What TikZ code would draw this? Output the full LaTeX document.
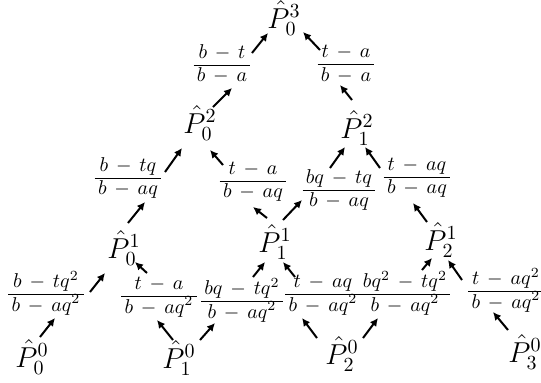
\documentclass[tikz,border=0pt]{standalone}
\usepackage{amsmath}
\usetikzlibrary{calc,arrows.meta}
\newcommand\conn[4]{\draw[arr] ($(#1)+(#2)$) -- ($(#3)+(#4)$);}
\newcommand\mn{\mathbin{\,{-}\,}}
\newcommand\ff[2]{{\renewcommand\arraystretch{0}%
  \begin{array}{@{\,}c@{\,}}\rule[-3.3pt]{0pt}{6pt}#1\\\hline\rule{0pt}{8pt}#2\end{array}}}
\begin{document}
\begin{tikzpicture}[x=0.5pt,y=-0.5pt,
  pn/.style={inner sep=0pt,font=\fontsize{14.5}{16}\selectfont},
  fr/.style={inner sep=0pt,font=\fontsize{9.8}{11}\selectfont},
  arr/.style={-{Latex[length=4pt,width=4pt]},line width=1pt}]
\useasboundingbox (0,0) rectangle (541,382);
% P nodes
\node[pn] (P03) at (284,18) {$\hat{P}_0^3$};
\node[pn] (P02) at (200,123) {$\hat{P}_0^2$};
\node[pn] (P12) at (357,128) {$\hat{P}_1^2$};
\node[pn] (P01) at (124,248) {$\hat{P}_0^1$};
\node[pn] (P11) at (275,242) {$\hat{P}_1^1$};
\node[pn] (P21) at (441,240) {$\hat{P}_2^1$};
\node[pn] (P00) at (32,357) {$\hat{P}_0^0$};
\node[pn] (P10) at (179,358) {$\hat{P}_1^0$};
\node[pn] (P20) at (342,354) {$\hat{P}_2^0$};
\node[pn] (P30) at (525,352) {$\hat{P}_3^0$};
% fractions
\node[fr] (Fj) at (222,64) {$\ff{b\mn t}{b\mn a}$};
\node[fr] (Fk) at (346,64) {$\ff{t\mn a}{b\mn a}$};
\node[fr] (Ff) at (128,178) {$\ff{b\mn tq}{b\mn aq}$};
\node[fr] (Fg) at (253,182) {$\ff{t\mn a}{b\mn aq}$};
\node[fr] (Fh) at (339,190) {$\ff{bq\mn tq}{b\mn aq}$};
\node[fr] (Fi) at (417,178) {$\ff{t\mn aq}{b\mn aq}$};
\node[fr] (F1) at (46,293) {$\ff{b\mn tq^2}{b\mn aq^2}$};
\node[fr] (Fa) at (159,297) {$\ff{t\mn a}{b\mn aq^2}$};
\node[fr] (Fb) at (242,300) {$\ff{bq\mn tq^2}{b\mn aq^2}$};
\node[fr] (Fc) at (323,295) {$\ff{t\mn aq}{b\mn aq^2}$};
\node[fr] (Fd) at (405,293) {$\ff{bq^2\mn tq^2}{b\mn aq^2}$};
\node[fr] (Fe) at (506,290) {$\ff{t\mn aq^2}{b\mn aq^2}$};
% arrows
\conn{P00}{8,-20}{F1}{9,25}
\conn{F1}{44,-1}{P01}{-19,25}
\conn{P10}{-6,-18}{Fa}{-2,23}
\conn{Fa}{-12,-24}{P01}{11,14}
\conn{P10}{21,-18}{Fb}{-27,23}
\conn{Fb}{11,-23}{P11}{-10,20}
\conn{P20}{-25,-16}{Fc}{-21,23}
\conn{Fc}{-28,-18}{P11}{8,20}
\conn{P20}{21,-16}{Fd}{-27,25}
\conn{Fd}{17,-23}{P21}{-9,18}
\conn{P30}{-17,-22}{Fe}{-13,22}
\conn{Fe}{-44,-10}{P21}{7,20}
\conn{P01}{4,-25}{Ff}{17,24}
\conn{Ff}{37,-6}{P02}{-18,25}
\conn{P11}{-8,-24}{Fg}{0,25}
\conn{Fg}{-30,-17}{P02}{10,27}
\conn{P11}{8,-22}{Fh}{-37,10}
\conn{Fh}{-9,-22}{P12}{-12,19}
\conn{P21}{-14,-18}{Fi}{-4,25}
\conn{Fi}{-37,-10}{P12}{8,19}
\conn{P02}{13,-16}{Fj}{10,24}
\conn{Fj}{30,-11}{P03}{-16,15}
\conn{P12}{-5,-28}{Fk}{-6,21}
\conn{Fk}{-26,-14}{P03}{19,14}
\end{tikzpicture}
\end{document}
